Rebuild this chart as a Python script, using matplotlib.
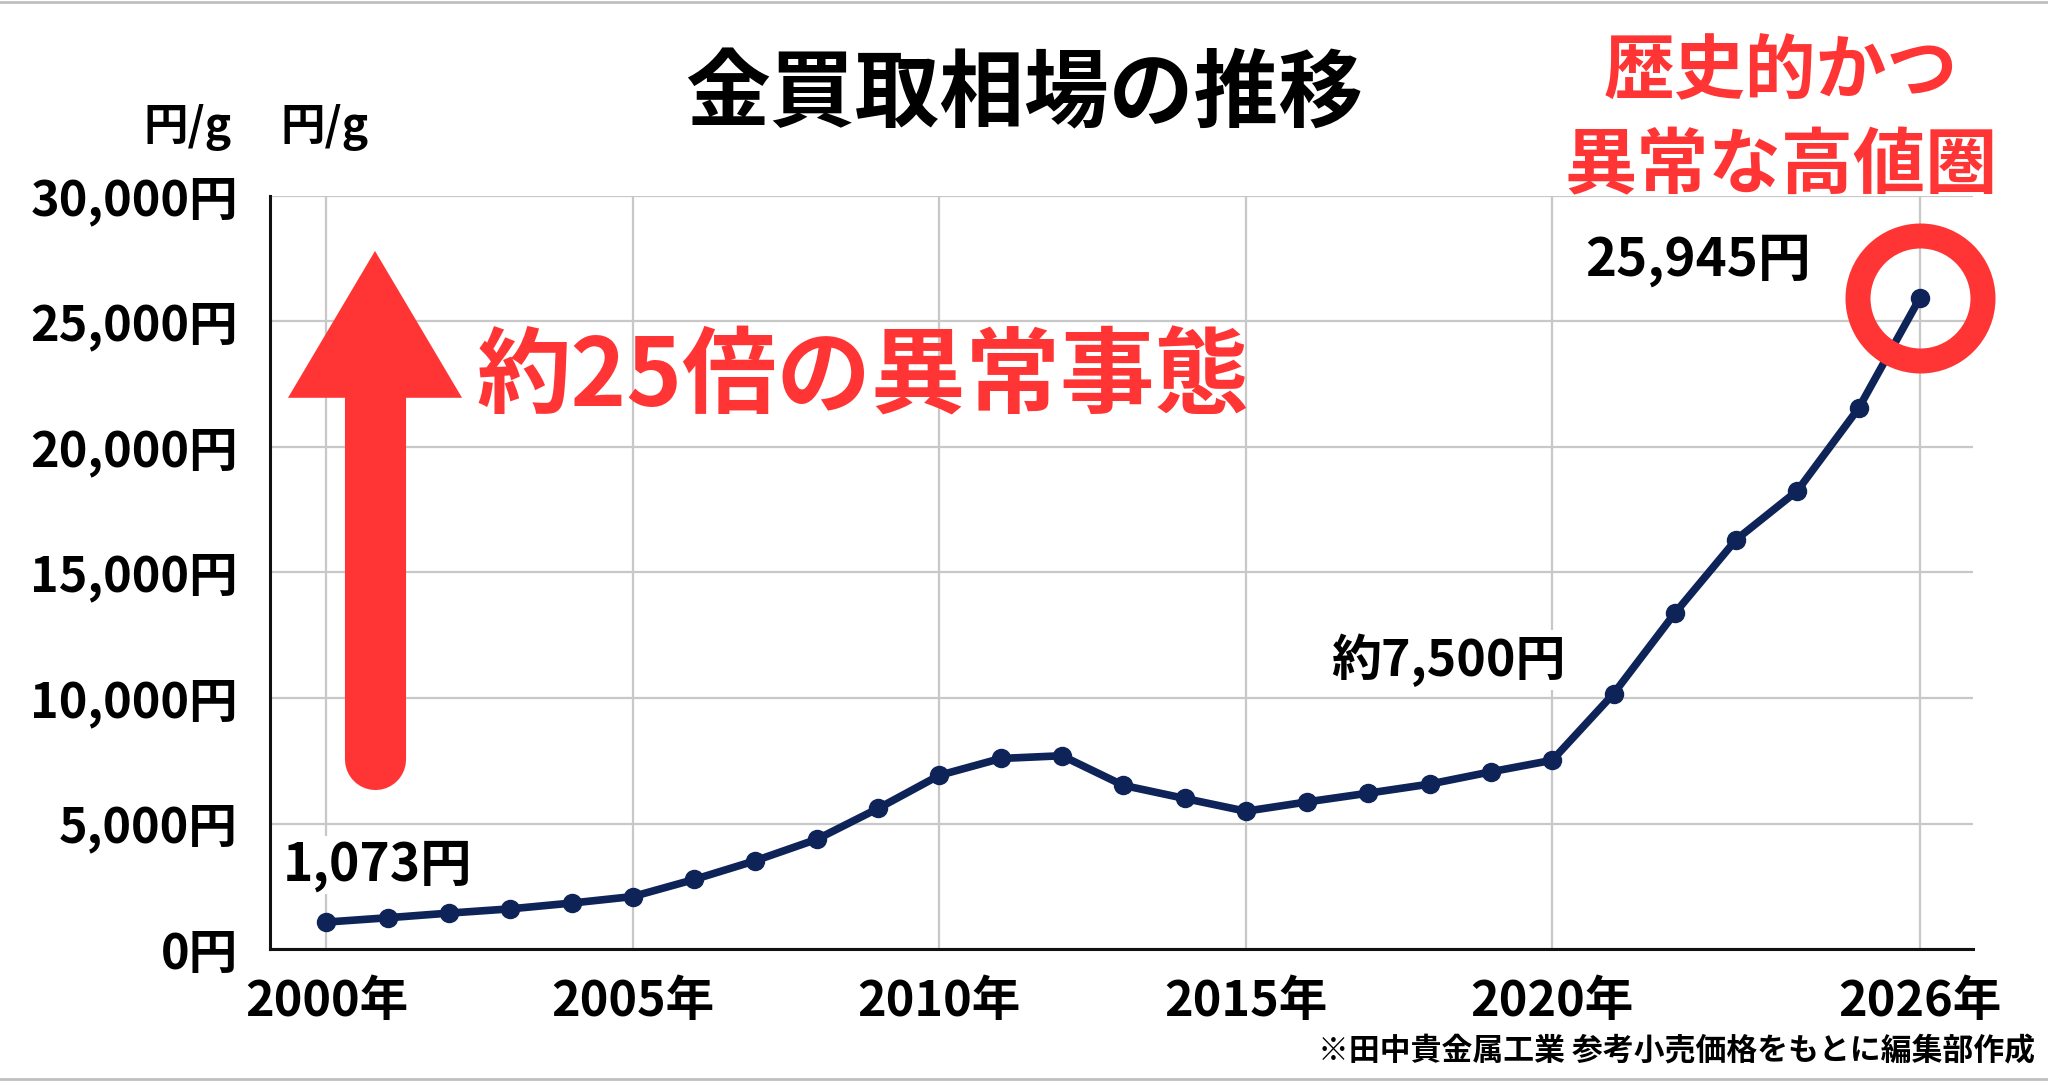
import numpy as np
import matplotlib.pyplot as plt
from matplotlib.patches import Polygon
from matplotlib.lines import Line2D

plt.rcParams['font.family'] = ['Noto Sans CJK JP', 'DejaVu Sans']
plt.rcParams['font.weight'] = 'bold'

# 年ごとの金価格 (円/g)
years = list(range(2000, 2027))
prices = [1073, 1245, 1430, 1600, 1830, 2090, 2770, 3520, 4370, 5600,
          6920, 7590, 7700, 6520, 6000, 5490, 5860, 6210, 6570, 7060,
          7520, 10170, 13380, 16310, 18260, 21550, 25945]
x_ticks = [2000, 2005, 2010, 2015, 2020, 2026]
y_ticks = [0, 5000, 10000, 15000, 20000, 25000, 30000]

navy = '#0e2357'
red = '#ff3535'

fig = plt.figure(figsize=(20.48, 10.81), dpi=100)
ax = fig.add_axes([0.1318, 0.1221, 0.9634 - 0.1318, 0.8187 - 0.1221])

ax.plot(years, prices, color=navy, lw=5.5, marker='o', ms=13, zorder=3)
ax.set_xlim(1999.078, 2026.865)
ax.set_ylim(0, 30000)
ax.set_xticks(x_ticks)
ax.set_xticklabels([f'{y}年' for y in x_ticks])
ax.set_yticks(y_ticks)
ax.set_yticklabels([f'{v:,}円' for v in y_ticks])
ax.tick_params(axis='both', length=0, labelsize=35)
ax.tick_params(axis='y', pad=23)
ax.tick_params(axis='x', pad=20)
ax.grid(color='#c8c8c8', lw=1.6, zorder=0)
ax.set_axisbelow(True)
for s in ['top', 'right']:
    ax.spines[s].set_visible(False)
for s in ['left', 'bottom']:
    ax.spines[s].set_linewidth(2.2)
    ax.spines[s].set_color('#111111')

# 値ラベル
box = dict(facecolor='white', edgecolor='none', pad=2)
ax.annotate(f'{prices[0]:,}円', xy=(years[0], prices[0]), xytext=(37, 41),
            textcoords='offset points', ha='center', va='center',
            fontsize=37, bbox=box, zorder=2)
ax.annotate(f'約{7500:,}円', xy=(years[20], prices[20]), xytext=(-75, 72),
            textcoords='offset points', ha='center', va='center',
            fontsize=36, bbox=box, zorder=2)
ax.annotate(f'{prices[-1]:,}円', xy=(years[-1], prices[-1]), xytext=(-160, 27),
            textcoords='offset points', ha='center', va='center',
            fontsize=38, zorder=2)

# 赤丸
ax.plot([years[-1]], [prices[-1]], 'o', mfc='none', mec=red, ms=90, mew=18,
        clip_on=False, zorder=4)

# 赤い矢印
ax.plot([0.0617, 0.0617], [0.252, 0.75], transform=ax.transAxes, color=red,
        lw=44, solid_capstyle='round', zorder=5)
ax.add_patch(Polygon([[0.0617 - 0.0511, 0.732], [0.0617 + 0.0511, 0.732],
                      [0.0617, 0.927]], closed=True, transform=ax.transAxes,
                     facecolor=red, edgecolor='none', zorder=5))

ax.text(0.121, 0.757, '約25倍の異常事態', transform=ax.transAxes,
        color=red, fontsize=68, ha='left', va='center', zorder=5)

fig.text(0.5, 0.912, '金買取相場の推移', ha='center', va='center', fontsize=61)
fig.text(0.070, 0.882, '円/g', ha='left', va='center', fontsize=32)
fig.text(0.137, 0.882, '円/g', ha='left', va='center', fontsize=32)
fig.text(0.8696, 0.933, '歴史的かつ', ha='center', va='center', fontsize=51, color=red)
fig.text(0.8696, 0.8455, '異常な高値圏', ha='center', va='center', fontsize=52, color=red)
fig.text(0.9937, 0.0277, '※田中貴金属工業 参考小売価格をもとに編集部作成',
         ha='right', va='center', fontsize=22.2)

# 外枠
fig.add_artist(Line2D([0, 1], [0.998, 0.998], color='#c0c0c0', lw=2))
fig.add_artist(Line2D([0, 1], [0.002, 0.002], color='#c0c0c0', lw=2))

fig.savefig('out.png', dpi=100)
